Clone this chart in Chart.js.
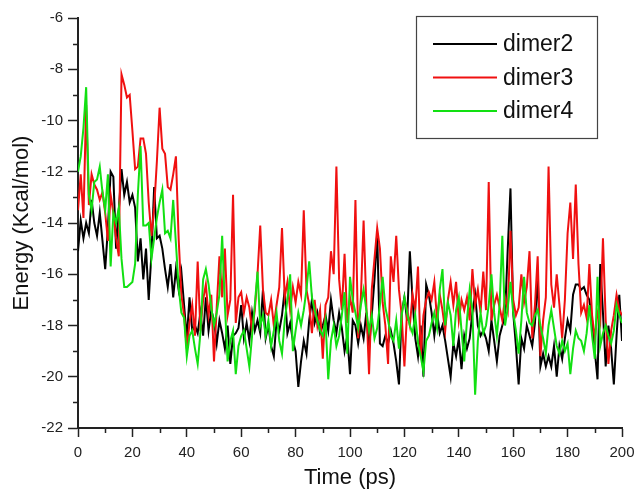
<!DOCTYPE html>
<html>
<head>
<meta charset="utf-8">
<script src="https://cdn.jsdelivr.net/npm/chart.js@4.4.1/dist/chart.umd.min.js"></script>
<style>
  html, body { margin: 0; padding: 0; background: #fff; }
  #chart { display: block; }
</style>
</head>
<body>
<canvas id="chart" width="639" height="489"></canvas>
<script>
// Energy vs time, one sample per ps (0..200)
const timeStep = 1;

const dimer2 = [
    -15.1, -13.9, -14.6, -14.0, -14.4, -13.1, -14.0, -14.5, -13.6, -14.7,
    -15.8, -14.2, -12.0, -12.2, -15.0, -13.5, -11.9, -12.9, -12.4, -13.2,
    -12.9, -13.4, -15.5, -14.6, -16.2, -15.0, -17.0, -15.2, -12.6, -14.6,
    -14.5, -15.0, -15.8, -16.5, -15.6, -16.9, -15.8, -16.6, -15.9, -17.2,
    -18.5, -16.9, -18.2, -18.0, -18.3, -17.5, -18.4, -16.9, -18.2, -17.4,
    -17.8, -18.7, -17.8, -18.3, -18.9, -18.0, -19.5, -18.4, -18.3, -18.1,
    -17.2, -18.5, -17.9, -18.6, -17.5, -18.2, -17.8, -18.3, -16.6, -18.5,
    -18.0, -18.8, -19.2, -17.8, -18.2, -17.6, -16.6, -18.3, -17.9, -18.6,
    -19.0, -20.4, -19.4, -18.6, -19.1, -17.8, -17.0, -17.9, -17.5, -18.3,
    -18.0, -17.6, -18.2, -17.0, -17.8, -18.3, -17.5, -18.1, -19.0, -18.4,
    -19.9, -17.8, -18.0, -18.7, -18.0, -18.5, -17.5, -18.9, -17.6, -16.2,
    -14.4, -18.7, -18.8, -18.4, -18.7, -18.2, -18.7, -19.4, -20.3, -17.5,
    -16.9, -17.8, -15.1, -17.0, -18.5, -19.2, -18.0, -20.0, -16.4, -16.8,
    -17.5, -18.4, -17.5, -18.3, -18.0, -18.6, -19.3, -20.0, -18.7, -19.2,
    -18.5, -19.7, -18.4, -18.9, -18.5, -17.5, -16.8, -18.0, -18.4, -18.2,
    -18.5, -19.0, -17.8, -18.6, -19.4, -18.4, -18.0, -17.6, -15.0, -12.65,
    -17.5, -18.8, -20.3, -18.5, -18.9, -18.0, -18.4, -18.8, -17.9, -16.0,
    -19.6, -19.1, -19.6, -19.2, -19.6, -18.8, -20.0, -18.8, -19.3, -18.5,
    -17.8, -18.2, -16.8, -16.4, -16.4, -16.6, -16.5, -16.8, -17.0, -17.8,
    -19.0, -20.1, -15.6, -17.5, -19.6, -18.0, -18.9, -20.3, -18.4, -16.8,
    -18.6
];

const dimer3 = [
    -13.5, -12.1, -13.8, -9.4, -13.3, -12.1, -12.5, -12.7, -13.1, -12.8,
    -13.6, -14.7, -12.9, -13.6, -14.6, -15.3, -8.2, -8.6, -9.1, -9.0,
    -10.4, -11.9, -11.8, -10.7, -10.7, -11.3, -13.2, -14.5, -13.4, -11.6,
    -9.5, -11.1, -11.3, -12.6, -12.7, -12.1, -11.4, -14.6, -16.8, -17.6,
    -18.9, -17.9, -17.2, -18.4, -15.5, -18.2, -17.0, -16.4, -17.6, -16.8,
    -19.4, -17.3, -15.3, -16.9, -15.0, -17.6, -17.0, -12.9, -17.9, -16.9,
    -16.7, -17.5, -16.9, -17.3, -18.2, -17.4, -16.0, -14.1, -16.6, -17.5,
    -17.6, -17.0, -18.0, -17.2, -16.5, -14.2, -16.9, -16.3, -17.4, -16.5,
    -17.1, -16.3, -16.8, -13.5, -16.6, -17.2, -18.3, -17.0, -18.0, -17.4,
    -19.3, -17.2, -16.9, -15.1, -16.0, -11.8, -16.2, -17.4, -15.2, -17.9,
    -16.9, -17.5, -13.1, -18.5, -16.9, -13.9, -17.2, -19.9, -16.6, -15.4,
    -14.2, -15.0, -17.1, -18.0, -19.5, -15.3, -16.3, -14.5, -16.6, -17.6,
    -19.6, -17.4, -18.0, -16.8, -17.4, -15.7, -19.2, -17.6, -17.0, -16.7,
    -17.0, -16.3, -17.8, -16.8, -17.4, -18.2, -17.0, -16.3, -17.2, -16.3,
    -17.8, -17.0, -17.4, -16.9, -17.8, -15.8, -17.2, -16.6, -17.5, -15.9,
    -17.4, -12.4, -17.8, -17.2, -16.8, -17.3, -17.8, -16.9, -17.4, -14.3,
    -17.0, -17.6, -17.3, -16.0, -17.1, -16.5, -15.1, -18.5, -17.2, -15.3,
    -19.2, -17.8, -16.9, -11.8, -16.4, -17.3, -16.0, -17.2, -18.5, -17.0,
    -14.4, -13.2, -15.4, -12.5, -15.6, -17.5, -17.2, -17.7, -15.6, -17.6,
    -18.5, -17.5, -17.9, -14.6, -17.8, -19.5, -18.2, -17.6, -16.8, -17.4,
    -17.6
];

const dimer4 = [
    -12.0, -11.4, -10.3, -8.7, -12.9, -13.5, -12.4, -12.3, -11.8, -12.8,
    -13.5, -12.1, -15.7, -13.6, -14.0, -13.4, -15.4, -16.5, -16.5, -16.4,
    -16.3, -15.6, -12.9, -11.0, -14.1, -14.1, -14.0, -15.4, -14.6, -13.8,
    -13.2, -12.7, -14.4, -14.3, -14.6, -13.1, -14.8, -16.5, -17.5, -17.7,
    -19.2, -18.4, -18.2, -18.9, -19.5, -18.3, -16.2, -15.8, -16.4, -17.3,
    -18.0, -17.5, -16.8, -14.5, -17.2, -19.4, -18.6, -18.2, -19.9, -18.8,
    -18.4, -18.2, -18.9, -19.6, -18.4, -17.2, -15.9, -18.0, -17.6, -18.4,
    -17.8, -18.8, -18.2, -17.5, -18.6, -19.1, -17.8, -17.0, -16.0, -19.0,
    -18.2, -17.5, -18.0, -17.4, -16.6, -15.5, -16.9, -17.4, -17.8, -18.2,
    -18.4, -17.8, -20.1, -18.6, -18.0, -18.8, -18.4, -17.6, -16.7, -19.1,
    -16.1, -17.0, -17.5, -18.1, -17.2, -16.6, -17.4, -18.2, -17.6, -18.5,
    -18.1, -17.2, -16.1, -17.3, -17.8, -18.4, -18.6, -17.8, -18.9, -17.6,
    -16.9, -17.5, -18.0, -18.3, -17.6, -18.7, -19.2, -19.8, -18.6, -18.4,
    -17.9, -17.5, -18.1, -16.6, -15.8, -18.0, -17.1, -17.6, -18.8, -17.4,
    -16.9, -18.2, -19.4, -17.8, -16.6, -17.4, -20.7, -18.6, -17.5, -18.3,
    -18.0, -17.2, -16.0, -17.5, -18.4, -17.2, -14.5, -18.0, -17.3, -16.3,
    -17.5, -18.2, -19.1, -17.8, -16.1, -17.5, -17.9, -18.0, -17.6, -17.4,
    -18.0, -18.5, -19.1, -18.0, -17.4, -18.1, -18.8, -19.1, -18.6, -19.0,
    -18.7, -19.9, -18.9, -18.2, -18.5, -18.6, -19.0, -18.3, -17.2, -18.4,
    -19.3, -16.1, -18.8, -18.3, -18.0, -18.4, -18.7, -18.2, -17.2, -17.6,
    -17.9
];

const seriesNames = ['dimer2', 'dimer3', 'dimer4'];
const seriesColors = ['#000000', '#f01010', '#12e012'];

const xMinorTicks = [10, 30, 50, 70, 90, 110, 130, 150, 170, 190];
const yMinorTicks = [-21, -19, -17, -15, -13, -11, -9, -7];

const FONT = 'Arial, "Liberation Sans", Helvetica, sans-serif';
const AXIS_COLOR = '#222';

function toPoints(values) {
    return values.map((v, i) => ({ x: i * timeStep, y: v }));
}

// short ticks between the labelled ones
const minorTicks = {
    id: 'minorTicks',
    afterDraw(chart) {
        const ctx = chart.ctx;
        const xs = chart.scales.x;
        const ys = chart.scales.y;
        const area = chart.chartArea;
        ctx.save();
        ctx.strokeStyle = AXIS_COLOR;
        ctx.lineWidth = 1.5;
        ctx.beginPath();
        xMinorTicks.forEach(v => {
            const px = Math.round(xs.getPixelForValue(v)) + 0.5;
            ctx.moveTo(px, area.bottom);
            ctx.lineTo(px, area.bottom + 5);
        });
        yMinorTicks.forEach(v => {
            const py = Math.round(ys.getPixelForValue(v)) + 0.5;
            ctx.moveTo(area.left - 5, py);
            ctx.lineTo(area.left, py);
        });
        ctx.stroke();
        ctx.restore();
    }
};

// boxed legend inside the top right of the plot
const boxLegend = {
    id: 'boxLegend',
    afterDraw(chart) {
        const ctx = chart.ctx;
        const box = { x: 416.5, y: 16.5, w: 181, h: 122 };
        ctx.save();
        ctx.fillStyle = '#fff';
        ctx.fillRect(box.x, box.y, box.w, box.h);
        ctx.strokeStyle = '#444';
        ctx.lineWidth = 1.2;
        ctx.strokeRect(box.x, box.y, box.w, box.h);
        ctx.font = '23px ' + FONT;
        ctx.textBaseline = 'middle';
        chart.data.datasets.forEach((ds, i) => {
            const cy = 44 + i * 33.5;
            ctx.strokeStyle = ds.borderColor;
            ctx.lineWidth = 2;
            ctx.beginPath();
            ctx.moveTo(433, cy);
            ctx.lineTo(497, cy);
            ctx.stroke();
            ctx.fillStyle = '#111';
            ctx.fillText(ds.label, 503, cy + 1);
        });
        ctx.restore();
    }
};

const ctx = document.getElementById('chart');

new Chart(ctx, {
    type: 'line',
    data: {
        datasets: [dimer2, dimer3, dimer4].map((vals, i) => ({
            label: seriesNames[i],
            data: toPoints(vals),
            borderColor: seriesColors[i],
            borderWidth: 2,
            pointRadius: 0,
            tension: 0,
            fill: false,
            order: 3 - i
        }))
    },
    options: {
        responsive: false,
        animation: false,
        devicePixelRatio: 1,
        layout: { padding: { top: 18, right: 17, bottom: 0, left: 0 } },
        plugins: {
            legend: { display: false },
            tooltip: { enabled: false }
        },
        scales: {
            x: {
                type: 'linear',
                min: 0,
                max: 200,
                afterFit: s => {
                    s.height = 61;
                    s.paddingLeft = 0;
                    s.paddingRight = 0;
                },
                ticks: {
                    stepSize: 20,
                    padding: 7,
                    color: '#222',
                    maxRotation: 0,
                    font: { family: FONT, size: 15 }
                },
                grid: {
                    drawOnChartArea: false,
                    drawTicks: true,
                    tickLength: 9,
                    tickWidth: 1.5,
                    tickColor: AXIS_COLOR
                },
                border: { display: true, color: AXIS_COLOR, width: 2 },
                title: {
                    display: true,
                    text: 'Time (ps)',
                    color: '#111',
                    padding: { top: 0, bottom: 0 },
                    font: { family: FONT, size: 22, lineHeight: 1 }
                }
            },
            y: {
                min: -22,
                max: -6,
                afterFit: s => { s.width = 78; },
                ticks: {
                    stepSize: 2,
                    padding: 5,
                    color: '#222',
                    font: { family: FONT, size: 15 }
                },
                grid: {
                    drawOnChartArea: false,
                    drawTicks: true,
                    tickLength: 10,
                    tickWidth: 1.5,
                    tickColor: AXIS_COLOR
                },
                border: { display: true, color: AXIS_COLOR, width: 2 },
                title: {
                    display: true,
                    text: 'Energy (Kcal/mol)',
                    color: '#111',
                    padding: { top: 11, bottom: 0 },
                    font: { family: FONT, size: 22, lineHeight: 1 }
                }
            }
        }
    },
    plugins: [minorTicks, boxLegend]
});
</script>
</body>
</html>
